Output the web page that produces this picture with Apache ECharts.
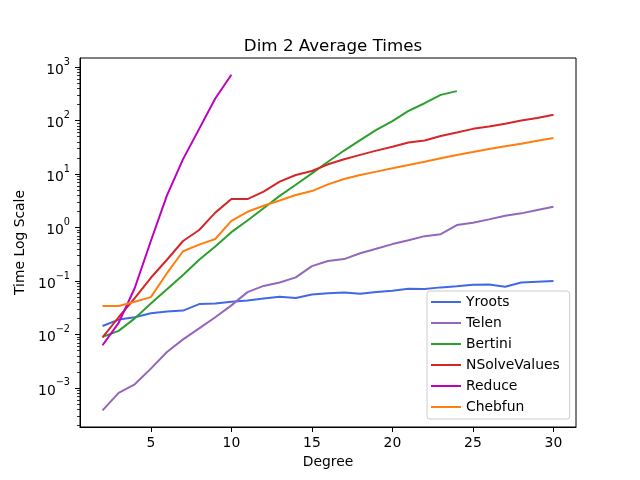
<!DOCTYPE html>
<html lang="en">
<head>
    <meta charset="UTF-8">
    <title>Dim 2 Average Times</title>
    <script src="https://cdn.jsdelivr.net/npm/echarts@6/dist/echarts.min.js"></script>
</head>
<body style="margin:0">
<div id="main" style="width: 640px;height:480px;"></div>

<script>
    // degree (x axis)
    var degrees = [2, 3, 4, 5, 6, 7, 8, 9, 10, 11, 12, 13, 14, 15, 16, 17, 18, 19, 20,
        21, 22, 23, 24, 25, 26, 27, 28, 29, 30];

    // average times
    var yroots = [0.0144, 0.019, 0.021, 0.025, 0.027, 0.028, 0.037, 0.038, 0.041, 0.043,
        0.047, 0.051, 0.048, 0.056, 0.059, 0.061, 0.058, 0.062, 0.066, 0.072,
        0.071, 0.076, 0.080, 0.085, 0.086, 0.078, 0.094, 0.097, 0.100];
    var telen = [0.00038, 0.00081, 0.00117, 0.0023, 0.0047, 0.0081, 0.013, 0.021, 0.035, 0.062,
        0.081, 0.094, 0.117, 0.19, 0.236, 0.257, 0.33, 0.40, 0.49, 0.58,
        0.69, 0.75, 1.11, 1.23, 1.42, 1.66, 1.84, 2.13, 2.45];
    var bertini = [0.009, 0.0117, 0.020, 0.038, 0.07, 0.13, 0.25, 0.44, 0.82, 1.35,
        2.3, 3.9, 6.3, 10.3, 17, 27.5, 43, 67, 98, 152,
        211, 302, 355];
    var nsolve = [0.0088, 0.021, 0.048, 0.115, 0.25, 0.56, 0.9, 1.9, 3.4, 3.4,
        4.7, 7.2, 9.6, 11.4, 15.2, 18.9, 22.8, 27.4, 32.5, 38.8,
        42.4, 51.6, 59.6, 70, 77.6, 87, 100, 112, 128];
    var reduce = [0.0063, 0.0165, 0.074, 0.56, 4.0, 19, 70, 258, 720];
    var chebfun = [0.034, 0.034, 0.041, 0.05, 0.14, 0.36, 0.48, 0.61, 1.33, 1.97,
        2.56, 3.2, 4.06, 4.8, 6.4, 8.1, 9.6, 11.1, 12.8, 14.8,
        17, 19.8, 22.8, 25.9, 29.5, 33, 37, 42, 47];

    var names = ['Yroots', 'Telen', 'Bertini', 'NSolveValues', 'Reduce', 'Chebfun'];
    var colors = ['#4169e1', '#9467bd', '#2ca02c', '#d62728', '#bf00bf', '#ff7f0e'];
    var values = [yroots, telen, bertini, nsolve, reduce, chebfun];

    var xTicks = [5, 10, 15, 20, 25, 30];
    var yTicks = [1e-3, 1e-2, 1e-1, 1, 10, 100, 1000];

    // minor log ticks 2..9 x 10^n
    var yMinorTicks = [];
    for (var p = -4; p <= 2; p++) {
        for (var m = 2; m <= 9; m++) {
            yMinorTicks.push(m * Math.pow(10, p));
        }
    }

    var font = 'DejaVu Sans';

    function pairs(vals) {
        var out = [];
        for (var i = 0; i < vals.length; i++) {
            out.push([degrees[i], vals[i]]);
        }
        return out;
    }

    var series = [];
    for (var s = 0; s < names.length; s++) {
        series.push({
            name: names[s],
            type: 'line',
            data: pairs(values[s]),
            symbol: 'none',
            lineStyle: {width: 2, color: colors[s]},
            itemStyle: {color: colors[s]},
            emphasis: {disabled: true}
        });
    }

    var myChart = echarts.init(document.getElementById('main'));

    var yMin = Math.pow(10, -3.73);
    var yMax = Math.pow(10, 3.17);

    var option = {
        animation: false,
        title: {
            text: 'Dim 2 Average Times',
            left: 328,
            top: 33,
            textAlign: 'center',
            textStyle: {fontFamily: font, fontSize: 16.7, fontWeight: 'normal', color: '#000'}
        },
        legend: {
            data: names,
            orient: 'vertical',
            left: 427,
            top: 291,
            padding: [4, 10, 5, 3],
            itemWidth: 30,
            itemHeight: 14,
            itemGap: 7,
            itemStyle: {opacity: 0},
            lineStyle: {width: 2},
            backgroundColor: 'rgba(255,255,255,0.8)',
            borderColor: '#cccccc',
            borderWidth: 1,
            borderRadius: 3,
            textStyle: {fontFamily: font, fontSize: 13.9, color: '#000'}
        },
        grid: {
            left: 80,
            right: 64,
            top: 58,
            bottom: 53,
            show: true,
            borderColor: '#000',
            borderWidth: 1,
            containLabel: false
        },
        xAxis: {
            type: 'value',
            min: 0.6,
            max: 31.4,
            name: 'Degree',
            nameLocation: 'middle',
            nameGap: 28,
            nameTextStyle: {fontFamily: font, fontSize: 13.9, color: '#000'},
            axisLine: {lineStyle: {color: '#000', width: 1}},
            axisTick: {show: true, length: 5, lineStyle: {color: '#000', width: 1}, customValues: xTicks},
            axisLabel: {fontFamily: font, fontSize: 13.9, color: '#000', margin: 9, customValues: xTicks},
            splitLine: {show: false}
        },
        yAxis: [{
            type: 'log',
            min: yMin,
            max: yMax,
            name: 'Time Log Scale',
            nameLocation: 'middle',
            nameGap: 48,
            nameTextStyle: {fontFamily: font, fontSize: 13.9, color: '#000'},
            axisLine: {lineStyle: {color: '#000', width: 1}},
            axisTick: {show: true, length: 5, lineStyle: {color: '#000', width: 1}, customValues: yTicks},
            axisLabel: {
                margin: 10,
                customValues: yTicks,
                formatter: function (v) {
                    var e = Math.round(Math.log(v) / Math.LN10);
                    var t = e < 0 ? '\u2212' + (-e) : '' + e;
                    return '{b|10}{e|' + t + '}';
                },
                rich: {
                    b: {fontFamily: font, fontSize: 13.9, color: '#000', lineHeight: 20, verticalAlign: 'bottom'},
                    e: {fontFamily: font, fontSize: 9.7, color: '#000', lineHeight: 20, verticalAlign: 'top'}
                }
            },
            splitLine: {show: false}
        }, {
            type: 'log',
            min: yMin,
            max: yMax,
            position: 'left',
            axisLine: {show: false},
            axisTick: {show: true, length: 3, lineStyle: {color: '#000', width: 0.8}, customValues: yMinorTicks},
            axisLabel: {show: false},
            splitLine: {show: false}
        }],
        series: series
    };

    myChart.setOption(option);
</script>
</body>
</html>
